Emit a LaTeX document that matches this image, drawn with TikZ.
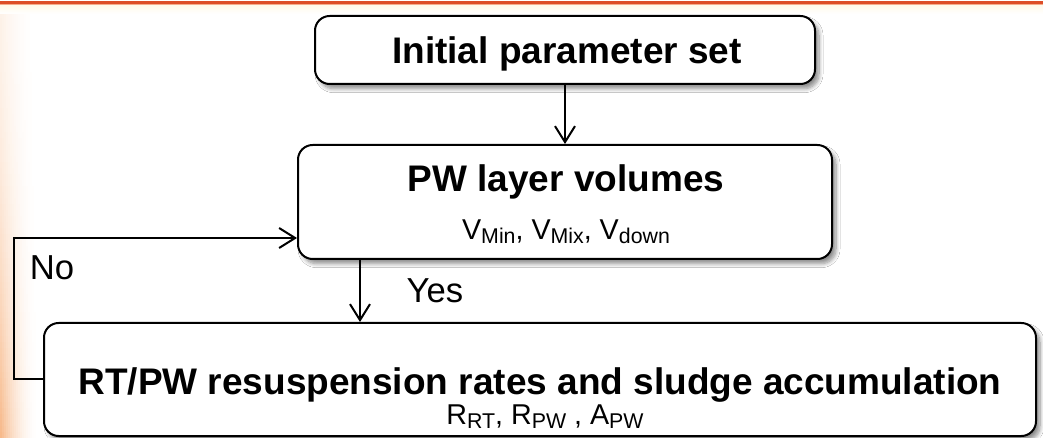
\documentclass[tikz,border=0pt]{standalone}
\usepackage{fontspec}
\setmainfont{Liberation Sans}
\usetikzlibrary{arrows.meta,shadows.blur,fit}

% one unit = one pixel of the 1043 x 438 canvas, y runs downwards
\newcommand\lowidx[1]{\raisebox{-3pt}{\fontsize{16}{16}\selectfont #1}}

\definecolor{bandred}{RGB}{221,78,40}
\definecolor{bandpink}{RGB}{246,172,140}
\definecolor{bandcream}{RGB}{255,250,236}
\definecolor{glow}{RGB}{244,160,96}

\tikzset{
  box/.style={draw=black, line width=1.5pt, fill=white, rounded corners=11pt,
    inner sep=0pt,
    blur shadow={shadow xshift=3pt, shadow yshift=-3.5pt, shadow blur steps=8,
      shadow blur radius=3pt, shadow opacity=45}},
  title/.style={font=\bfseries\fontsize{27.75}{30}\selectfont, anchor=base, inner sep=0pt},
  sub/.style={font=\fontsize{21.5}{24}\selectfont, anchor=base, inner sep=0pt},
  lbl/.style={font=\fontsize{26}{28}\selectfont, anchor=base, inner sep=0pt},
  arr/.style={line width=1.5pt, -{Straight Barb[length=12pt, width=15pt, line width=1.5pt]}},
}

\begin{document}
\begin{tikzpicture}[x=0.75pt, y=-0.75pt]
  % canvas
  \fill[white] (0,0) rectangle (1043,438);
  \useasboundingbox (0,0) rectangle (1043,438);

  % warm glow down the left edge: small solid cells, tinted more
  % towards the edge and towards the bottom
  \foreach \xx in {0,2,...,38}{
    \foreach \yy in {12,18,...,432}{
      \pgfmathtruncatemacro\p{75*(1-\xx/40)^2*(0.2+0.8*((\yy-12)/426)^2)}
      \fill[glow!\p!white] (\xx,\yy) rectangle (\xx+2.4,\yy+6.4);
    }
  }

  % header band
  \fill[top color=bandcream, bottom color=white] (0,5.5) rectangle (1043,14);
  \fill[bandpink] (0,4) rectangle (1043,5.5);
  \fill[bandred] (0,1) rectangle (1043,4);

  % boxes
  \node[box, fit={(315,16) (815,84)}] (b1) {};
  \node[box, fit={(298,145) (832,259)}] (b2) {};
  \node[box, fit={(44,323) (1036,436)}] (b3) {};

  % box texts
  \node[title] (t1) at (567,64) {Initial parameter set};
  \node[title] (t2) at (566,192) {PW layer volumes};
  \node[sub] (s2) at (566,240) {V\lowidx{Min}, V\lowidx{Mix}, V\lowidx{down}};
  \node[title] (t3) at (540,395) {RT/PW resuspension rates and sludge accumulation};
  \node[sub] (s3) at (545,424) {R\lowidx{RT}, R\lowidx{PW} , A\lowidx{PW}};

  % connectors
  \coordinate (downx) at (360,0);
  \coordinate (loopy) at (0,238);
  \draw[arr] (b1.south) -- (b2.north);
  \draw[arr] (b2.south -| downx) -- (b3.north -| downx);
  \draw[arr] (b3.west) -- ++(-29,0) |- (b2.west |- loopy);

  % branch labels
  \node[lbl] (no) at (52,280) {No};
  \node[lbl] (yes) at (435,303) {Yes};
\end{tikzpicture}
\end{document}
